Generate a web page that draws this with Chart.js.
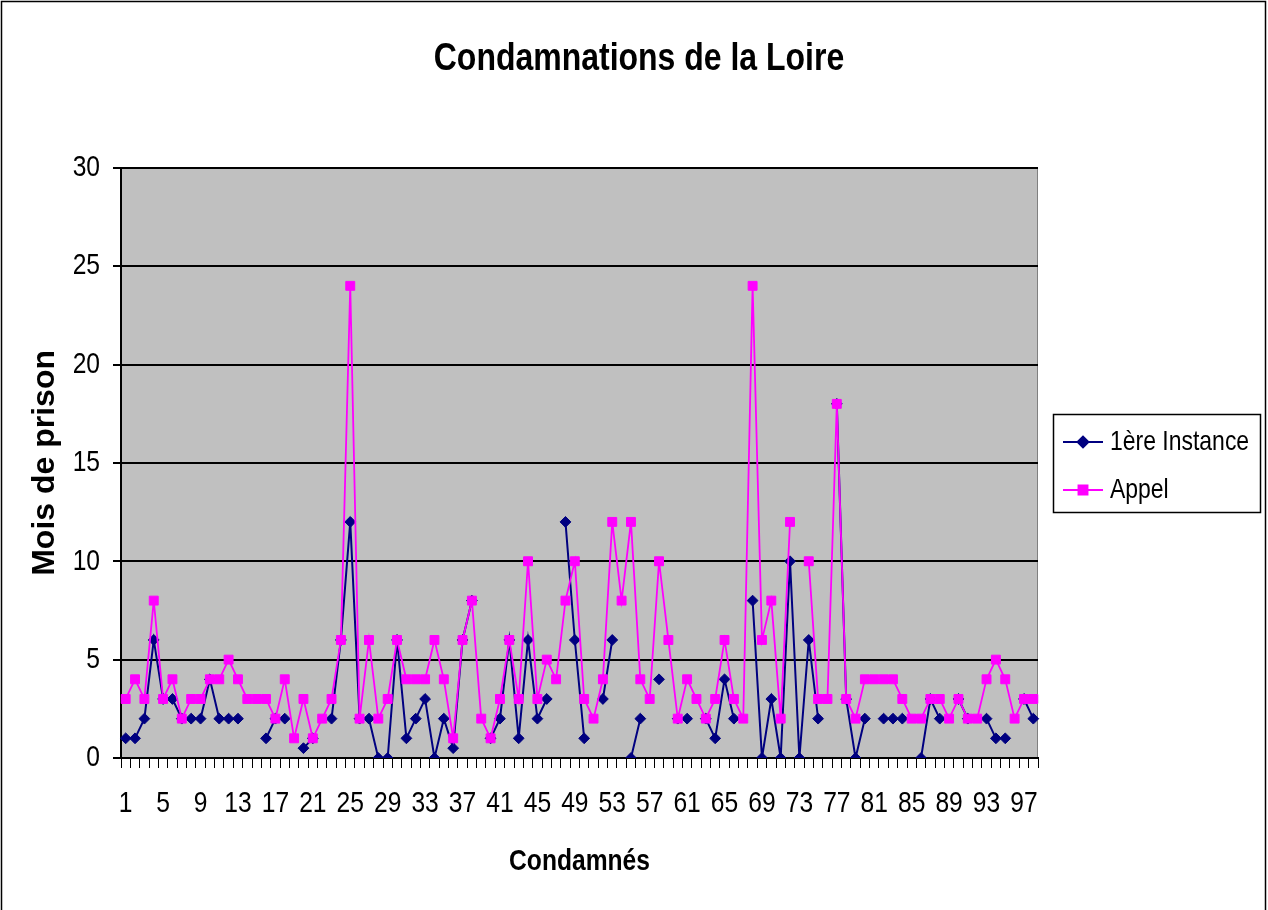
<!DOCTYPE html>
<html lang="fr">
<head>
<meta charset="utf-8">
<title>Condamnations de la Loire</title>
<script src="https://cdn.jsdelivr.net/npm/chart.js@4.4.1/dist/chart.umd.min.js"></script>
<style>
  html, body { margin: 0; padding: 0; background: #fff; }
  canvas { display: block; }
</style>
</head>
<body>
<canvas id="chart" width="1268" height="910"></canvas>
<script>
// categories: one per convicted person
const condamnes = ['1','2','3','4','5','6','7','8','9','10','11','12','13','14','15','16','17','18','19','20',
  '21','22','23','24','25','26','27','28','29','30','31','32','33','34','35','36','37','38','39','40',
  '41','42','43','44','45','46','47','48','49','50','51','52','53','54','55','56','57','58','59','60',
  '61','62','63','64','65','66','67','68','69','70','71','72','73','74','75','76','77','78','79','80',
  '81','82','83','84','85','86','87','88','89','90','91','92','93','94','95','96','97','98'];

// only every 4th label is printed under the axis
const shownTicks = ['1','5','9','13','17','21','25','29','33','37','41','45','49','53','57','61','65','69','73','77','81','85','89','93','97'];

const yTicks = [0, 5, 10, 15, 20, 25, 30];

// months of prison, null = no value
const premiereInstance = [1, 1, 2, 6, 3, 3, 2, 2, 2, 4, 2, 2, 2, null, null, 1, 2, 2, null, 0.5,
  1, null, 2, 6, 12, 2, 2, 0, 0, 6, 1, 2, 3, 0, 2, 0.5, 6, 8, null, 1,
  2, 6, 1, 6, 2, 3, null, 12, 6, 1, null, 3, 6, null, 0, 2, null, 4, null, 2,
  2, null, 2, 1, 4, 2, null, 8, 0, 3, 0, 10, 0, 6, 2, null, 18, 3, 0, 2,
  null, 2, 2, 2, null, 0, 3, 2, null, 3, 2, null, 2, 1, 1, null, 3, 2];

const appel = [3, 4, 3, 8, 3, 4, 2, 3, 3, 4, 4, 5, 4, 3, 3, 3, 2, 4, 1, 3,
  1, 2, 3, 6, 24, 2, 6, 2, 3, 6, 4, 4, 4, 6, 4, 1, 6, 8, 2, 1,
  3, 6, 3, 10, 3, 5, 4, 8, 10, 3, 2, 4, 12, 8, 12, 4, 3, 10, 6, 2,
  4, 3, 2, 3, 6, 3, 2, 24, 6, 8, 2, 12, null, 10, 3, 3, 18, 3, 2, 4,
  4, 4, 4, 3, 2, 2, 3, 3, 2, 3, 2, 2, 4, 5, 4, 2, 3, 3];

// no narrow font is installed, so "Narrow" text gets squeezed by hand (see narrowText)
const NARROW = '"Liberation Sans Narrow", "Liberation Sans", Arial, sans-serif';
const WIDE = '"Liberation Sans", Arial, sans-serif';
const NAVY = '#000080';
const MAGENTA = '#FF00FF';

const narrowText = {
  id: 'narrowText',
  beforeInit(chart) {
    const ctx = chart.ctx;
    const fill = ctx.fillText;
    ctx.fillText = function (text, x, y, maxWidth) {
      if (!this.font.includes('Narrow')) return fill.call(this, text, x, y, maxWidth);
      this.save();
      this.translate(x, y);
      this.scale(0.82, 1);
      fill.call(this, text, 0, 0);
      this.restore();
    };
  }
};

const plotBackground = {
  id: 'plotBackground',
  beforeDraw(chart) {
    const {ctx, chartArea: a} = chart;
    ctx.save();
    ctx.fillStyle = '#C0C0C0';
    ctx.fillRect(a.left, a.top, a.right - a.left, a.bottom - a.top);
    ctx.strokeStyle = '#808080';
    ctx.lineWidth = 1;
    ctx.strokeRect(a.left + 0.5, a.top + 0.5, a.right - a.left - 1, a.bottom - a.top);
    ctx.restore();
  }
};

// excel style legend box (line + marker) and the outer frame
const excelLegend = {
  id: 'excelLegend',
  afterDraw(chart) {
    const ctx = chart.ctx;
    ctx.save();
    ctx.strokeStyle = '#000';
    ctx.lineWidth = 1.5;
    ctx.strokeRect(1.5, 1.5, 1264, 930);
    ctx.strokeRect(1053.5, 414.5, 207, 98);

    const entries = chart.data.datasets.slice().sort((a, b) => a.legendRank - b.legendRank);
    entries.forEach((ds, i) => {
      const y = 442 + i * 48;
      ctx.strokeStyle = ds.borderColor;
      ctx.lineWidth = 2;
      ctx.beginPath();
      ctx.moveTo(1063, y);
      ctx.lineTo(1103, y);
      ctx.stroke();
      ctx.fillStyle = ds.pointBackgroundColor;
      ctx.strokeStyle = ds.pointBorderColor;
      Chart.helpers.drawPoint(ctx, {pointStyle: ds.pointStyle, radius: ds.pointRadius, rotation: 0, borderWidth: 1}, 1083, y);
      ctx.fillStyle = '#000';
      ctx.font = '28px ' + NARROW;
      ctx.textAlign = 'left';
      ctx.textBaseline = 'middle';
      ctx.fillText(ds.label, 1110, y);
    });
    ctx.restore();
  }
};

new Chart(document.getElementById('chart'), {
  type: 'line',
  data: {
    labels: condamnes,
    datasets: [
      {
        label: 'Appel',
        legendRank: 1,
        order: 0,
        data: appel,
        borderColor: MAGENTA,
        backgroundColor: MAGENTA,
        pointBackgroundColor: MAGENTA,
        pointBorderColor: MAGENTA,
        borderWidth: 1.8,
        pointStyle: 'rect',
        pointRadius: 6.3,
        pointBorderWidth: 1,
        spanGaps: false,
        tension: 0
      },
      {
        label: '1ère Instance',
        legendRank: 0,
        order: 1,
        data: premiereInstance,
        borderColor: NAVY,
        backgroundColor: NAVY,
        pointBackgroundColor: NAVY,
        pointBorderColor: NAVY,
        borderWidth: 2,
        pointStyle: 'rectRot',
        pointRadius: 5.4,
        pointBorderWidth: 1,
        spanGaps: false,
        tension: 0
      }
    ]
  },
  options: {
    responsive: false,
    animation: false,
    layout: { padding: { left: 10, right: 0, top: 0, bottom: 0 } },
    plugins: {
      legend: { display: false },
      tooltip: { enabled: false },
      title: {
        display: true,
        text: 'Condamnations de la Loire',
        color: '#000',
        font: { family: NARROW, size: 39, weight: 'bold' },
        padding: { top: 36, bottom: 85 }
      }
    },
    scales: {
      x: {
        type: 'category',
        offset: true,
        border: { color: '#000', width: 2 },
        grid: { offset: true, drawOnChartArea: false, drawTicks: true, tickLength: 10, color: '#000', lineWidth: 1 },
        ticks: {
          autoSkip: false,
          maxRotation: 0,
          padding: 18,
          color: '#000',
          font: { family: NARROW, size: 30 },
          callback: function (value) {
            const lab = this.getLabelForValue(value);
            return shownTicks.includes(lab) ? lab : '';
          }
        },
        title: {
          display: true,
          text: 'Condamnés',
          color: '#000',
          font: { family: NARROW, size: 30, weight: 'bold' },
          padding: { top: 0, bottom: 30 }
        },
        afterFit: (scale) => { scale.height = 152; }
      },
      y: {
        min: 0,
        max: 30,
        border: { color: '#000', width: 2 },
        grid: { color: '#000', lineWidth: 2, tickLength: 8 },
        afterBuildTicks: (scale) => { scale.ticks = yTicks.map(v => ({ value: v })); },
        ticks: {
          padding: 13,
          color: '#000',
          font: { family: NARROW, size: 30 }
        },
        title: {
          display: true,
          text: 'Mois de prison',
          color: '#000',
          font: { family: WIDE, size: 32, weight: 'bold' },
          padding: { top: 16, bottom: 0 }
        },
        afterFit: (scale) => { scale.width = 111; }
      },
      // empty right-hand axis that only reserves room for the legend box
      legendRoom: {
        type: 'linear',
        position: 'right',
        display: true,
        grid: { display: false, drawTicks: false },
        border: { display: false },
        ticks: { display: false },
        afterFit: (scale) => { scale.width = 230; }
      }
    }
  },
  plugins: [narrowText, plotBackground, excelLegend]
});
</script>
</body>
</html>
